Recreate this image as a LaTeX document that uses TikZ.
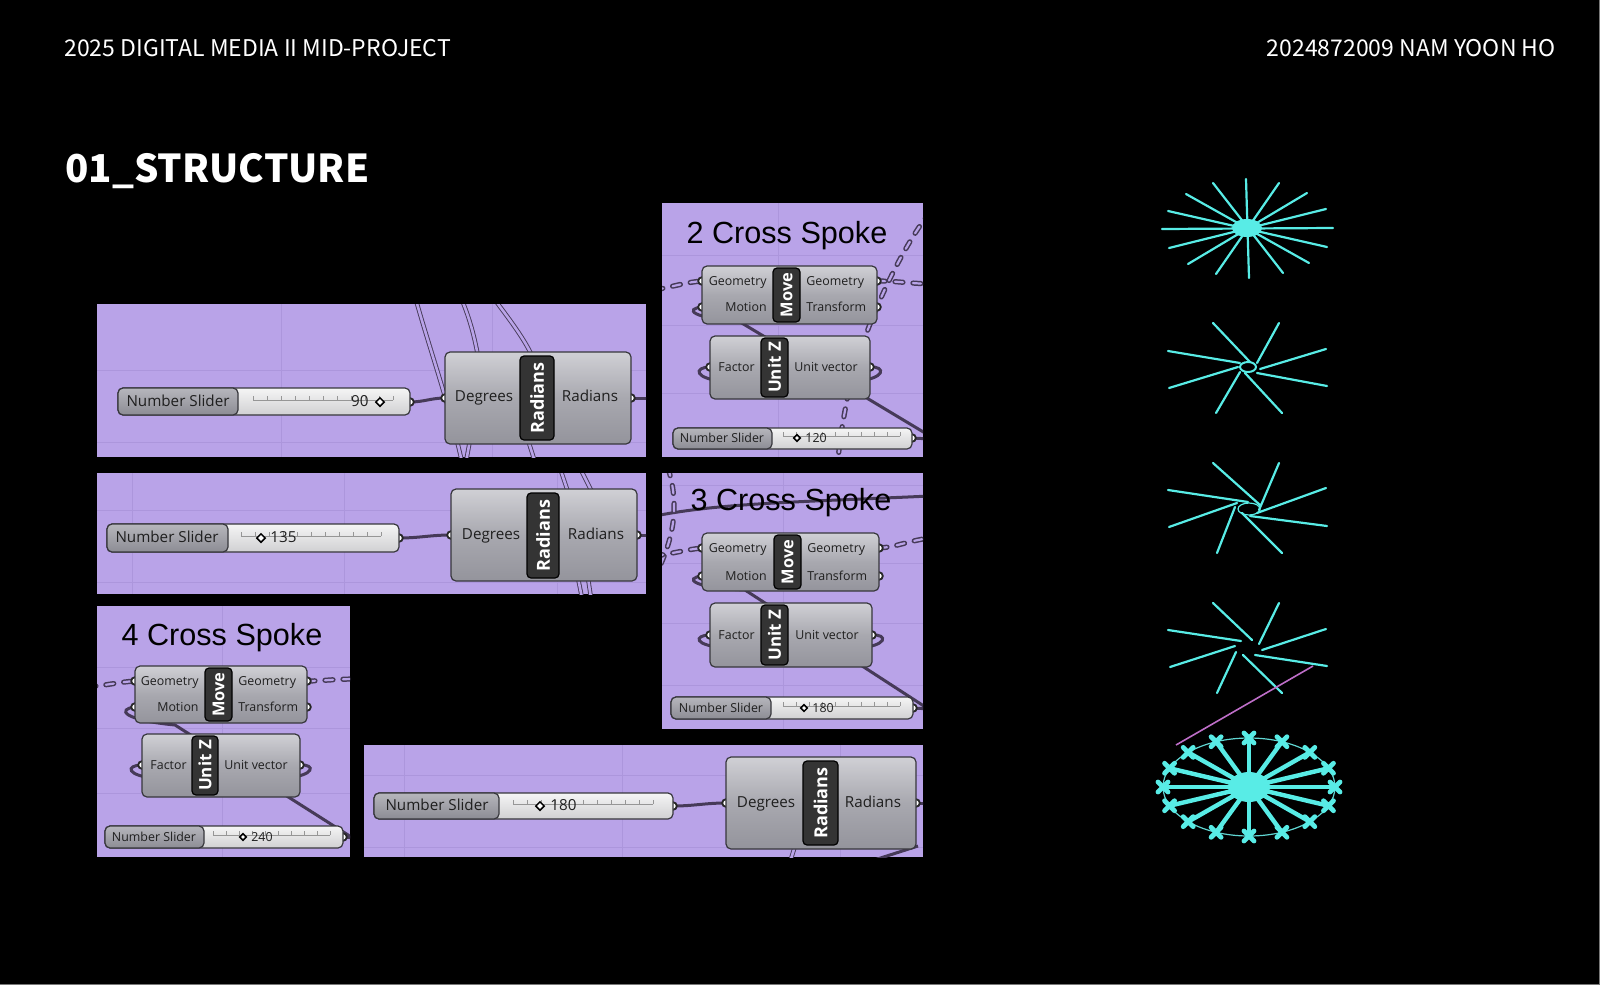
\documentclass[tikz,border=0pt]{standalone}
\usepackage{fontspec}
\usetikzlibrary{shapes.geometric}
\newfontfamily\hdr{Noto Sans CJK KR}
\newfontfamily\gh{Open Sans}
\newfontfamily\ttl{Liberation Sans}
\definecolor{panelc}{RGB}{185,163,232}
\definecolor{gridc}{RGB}{172,150,220}
\definecolor{wirec}{RGB}{70,58,88}
\definecolor{compb}{RGB}{55,55,60}
\definecolor{ctop}{RGB}{208,208,213}
\definecolor{cmid}{RGB}{168,168,175}
\definecolor{cbot}{RGB}{148,148,156}
\definecolor{labc}{RGB}{52,52,52}
\definecolor{sltop}{RGB}{245,245,245}
\definecolor{slbot}{RGB}{208,208,210}
\definecolor{sllt}{RGB}{182,182,188}
\definecolor{sllb}{RGB}{140,140,148}
\definecolor{tickc}{RGB}{150,150,150}
\definecolor{cyanc}{RGB}{88,236,230}
\definecolor{pinkc}{RGB}{190,110,200}
\definecolor{edgec}{RGB}{120,120,120}
\pgfdeclarelayer{bg}\pgfdeclarelayer{wires}\pgfdeclarelayer{ports}
\pgfsetlayers{bg,wires,ports,main}
\newcommand\fbig{\gh\fontsize{7.6}{9}\selectfont}
\newcommand\fsml{\gh\fontsize{6.2}{7.5}\selectfont}
\newcommand\ghbox[6]{\node[#1, minimum width={(#5-#3)*0.5pt}, minimum height={(#6-#4)*0.5pt}] (#2) at (#3,#4) {};}
\newcommand\ghport[2]{\coordinate (#1) at (#2); \begin{pgfonlayer}{ports}\filldraw[portst] (#1) circle[radius=3.8];\end{pgfonlayer}}
\newcommand\ghticks[4]{\draw[tick] (#1,#4) -- (#3,#4); \foreach \tx in {#1,#2,...,#3} \draw[tick] (\tx,#4) -- (\tx,#4-4);}
\begin{document}
\begin{tikzpicture}[x=0.5pt,y=-0.5pt,
 comp/.style={draw=compb, line width=0.6pt, rounded corners=2.5pt, top color=ctop, bottom color=cbot, middle color=cmid, anchor=north west, inner sep=0pt, outer sep=0pt},
 clab/.style={draw=black, line width=0.6pt, fill=labc, rounded corners=2pt, anchor=north west, inner sep=0pt, outer sep=0pt},
 slbody/.style={draw=compb, line width=0.6pt, rounded corners=2.5pt, top color=sltop, bottom color=slbot, anchor=north west, inner sep=0pt, outer sep=0pt},
 sllab/.style={draw=compb, line width=0.6pt, rounded corners=2.5pt, top color=sllt, bottom color=sllb, anchor=north west, inner sep=0pt, outer sep=0pt},
 ctext/.style={text=white, rotate=90, inner sep=0pt, font=\gh\bfseries\fontsize{9}{9}\selectfont},
 ptxt/.style={inner sep=0pt, text=black!88, anchor=mid},
 portst/.style={fill=white, draw=black!85, line width=0.9pt},
 wire/.style={draw=wirec, line width=1.5pt},
 bgw/.style={draw=wirec, double=panelc, line width=0.45pt, double distance=1.3pt},
 hdash/.style={draw=wirec, line width=2.6pt, dash pattern=on 4pt off 5pt, line cap=round, postaction={draw=panelc, line width=1.1pt, dash pattern=on 4pt off 5pt, line cap=round}},
 tick/.style={draw=tickc, line width=0.4pt},
 diam/.style={diamond, draw=black, line width=0.75pt, fill=white, inner sep=0pt, minimum size=4.5pt},
 spoke/.style={draw=cyanc, line width=1.1pt, line cap=round},
 gridl/.style={draw=gridc, line width=0.5pt},
 ttlst/.style={font=\ttl\fontsize{15.3}{16}\selectfont, inner sep=0pt, anchor=base, text=black},
 hdrst/.style={font=\hdr\fontsize{11.5}{14}\selectfont, text=white, inner sep=0pt}
]
\useasboundingbox (0,0) rectangle (1600,985);
% ---------------- background and panels
\begin{pgfonlayer}{bg}
\fill[black] (0,0) rectangle (1600,985);
\draw[edgec, line width=0.6pt] (0,984.3) -- (1599.3,984.3) -- (1599.3,0);
\fill[panelc] (97,304) rectangle (646,457);
\fill[panelc] (662,203) rectangle (923,457);
\fill[panelc] (97,473) rectangle (646,594);
\fill[panelc] (662,473) rectangle (923,729);
\fill[panelc] (97,606) rectangle (350,857);
\fill[panelc] (364,745) rectangle (923,857);
\draw[gridl] (281,304) -- (281,457) (492,304) -- (492,457) (97,370) -- (646,370) (97,442) -- (646,442);
\draw[gridl] (778,203) -- (778,457) (662,255) -- (923,255) (662,325) -- (923,325) (662,393) -- (923,393);
\draw[gridl] (132,473) -- (132,594) (344,473) -- (344,594) (557,473) -- (557,594) (97,510) -- (646,510) (97,582) -- (646,582);
\draw[gridl] (783,473) -- (783,729) (662,485) -- (923,485) (662,563) -- (923,563) (662,623) -- (923,623) (662,685) -- (923,685);
\draw[gridl] (222,606) -- (222,857) (97,667) -- (350,667) (97,728) -- (350,728) (97,793) -- (350,793);
\draw[gridl] (404,745) -- (404,857) (622,745) -- (622,857) (840,745) -- (840,857) (364,775) -- (923,775) (364,847) -- (923,847);
\end{pgfonlayer}
% ---------------- headers
\node[hdrst, anchor=base west] (h1) at (64,56) {2025 DIGITAL MEDIA II MID-PROJECT};
\node[hdrst, anchor=base east] (h2) at (1556,56) {2024872009 NAM YOON HO};
\node[font=\hdr\bfseries\fontsize{19.2}{22}\selectfont, text=white, inner sep=0pt, anchor=base west] (h3) at (65,182) {01\_STRUCTURE};
% ---------------- P1
\ghbox{slbody}{s1}{118}{388}{410}{415}
\ghbox{sllab}{s1l}{118}{388}{238}{415}
\node[ptxt,font=\fbig] (s1t) at (178,402) {Number Slider};
\ghticks{253}{267}{393}{400}
\node[ptxt,font=\fbig,anchor=mid east] (s1v) at (369,402) {90};
\node[diam] (s1d) at (380,402) {};
\ghport{s1o}{410,402}
\ghbox{comp}{r1}{445}{352}{631}{444}
\ghbox{clab}{r1l}{520}{356}{554}{440}
\node[ctext] (r1c) at (r1l.center) {Radians};
\node[ptxt,font=\fbig] (r1a) at (484,397) {Degrees};
\node[ptxt,font=\fbig] (r1b) at (590,397) {Radians};
\ghport{r1i}{445,398}
\ghport{r1o}{631,398}
% ---------------- P3
\ghbox{slbody}{s3}{107}{524}{399}{552}
\ghbox{sllab}{s3l}{107}{524}{228}{552}
\node[ptxt,font=\fbig] (s3t) at (167,538) {Number Slider};
\ghticks{241}{255}{381}{536}
\node[diam] (s3d) at (261,538) {};
\node[ptxt,font=\fbig,anchor=mid west] (s3v) at (270,538) {135};
\ghport{s3o}{399,538}
\ghbox{comp}{r3}{451}{489}{637}{581}
\ghbox{clab}{r3l}{527}{493}{559}{578}
\node[ctext] (r3c) at (r3l.center) {Radians};
\node[ptxt,font=\fbig] (r3a) at (491,535) {Degrees};
\node[ptxt,font=\fbig] (r3b) at (596,535) {Radians};
\ghport{r3i}{451,535}
\ghport{r3o}{637,535}
% ---------------- P6
\ghbox{slbody}{s6}{374}{793}{673}{819}
\ghbox{sllab}{s6l}{374}{793}{499}{819}
\node[ptxt,font=\fbig] (s6t) at (437,806) {Number Slider};
\ghticks{513}{527}{653}{804}
\node[diam] (s6d) at (540,806) {};
\node[ptxt,font=\fbig,anchor=mid west] (s6v) at (550,806) {180};
\ghport{s6o}{673,806}
\ghbox{comp}{r6}{726}{757}{916}{849}
\ghbox{clab}{r6l}{803}{761}{838}{845}
\node[ctext] (r6c) at (r6l.center) {Radians};
\node[ptxt,font=\fbig] (r6a) at (766,803) {Degrees};
\node[ptxt,font=\fbig] (r6b) at (873,803) {Radians};
\ghport{r6i}{726,803}
\ghport{r6o}{916,803}
% ---------------- P2
\node[ttlst] (t2) at (787,243) {2 Cross Spoke};
\ghbox{comp}{m2}{702}{266}{877}{324}
\ghbox{clab}{m2l}{773}{268}{800}{322}
\node[ctext,font=\gh\bfseries\fontsize{8.2}{9}\selectfont] (m2c) at (m2l.center) {Move};
\node[ptxt,font=\fsml,anchor=mid east] (m2a) at (767,281) {Geometry};
\node[ptxt,font=\fsml,anchor=mid east] (m2b) at (767,307) {Motion};
\node[ptxt,font=\fsml,anchor=mid west] (m2d) at (806,281) {Geometry};
\node[ptxt,font=\fsml,anchor=mid west] (m2e) at (806,307) {Transform};
\ghport{m2gi}{702,281}\ghport{m2mi}{702,307}\ghport{m2go}{877,281}\ghport{m2to}{877,307}
\ghbox{comp}{u2}{710}{336}{870}{399}
\ghbox{clab}{u2l}{761}{338}{788}{397}
\node[ctext,font=\gh\bfseries\fontsize{8.5}{9}\selectfont] (u2c) at (u2l.center) {Unit Z};
\node[ptxt,font=\fsml,anchor=mid east] (u2a) at (755,367) {Factor};
\node[ptxt,font=\fsml,anchor=mid west] (u2b) at (794,367) {Unit vector};
\ghport{u2fi}{710,367}\ghport{u2uo}{870,367}
\ghbox{slbody}{s2}{673}{428}{912}{449}
\ghbox{sllab}{s2l}{673}{428}{772}{449}
\node[ptxt,font=\fsml] (s2t) at (722,438) {Number Slider};
\ghticks{783}{796}{900}{436}
\node[diam,minimum size=3.6pt] (s2d) at (797,438) {};
\node[ptxt,font=\fsml,anchor=mid west] (s2v) at (805,438) {120};
\ghport{s2o}{912,438}
% ---------------- P4
\node[ttlst] (t4) at (791,510) {3 Cross Spoke};
\ghbox{comp}{m4}{702}{533}{879}{591}
\ghbox{clab}{m4l}{774}{535}{801}{589}
\node[ctext,font=\gh\bfseries\fontsize{8.2}{9}\selectfont] (m4c) at (m4l.center) {Move};
\node[ptxt,font=\fsml,anchor=mid east] (m4a) at (767,548) {Geometry};
\node[ptxt,font=\fsml,anchor=mid east] (m4b) at (767,576) {Motion};
\node[ptxt,font=\fsml,anchor=mid west] (m4d) at (807,548) {Geometry};
\node[ptxt,font=\fsml,anchor=mid west] (m4e) at (807,576) {Transform};
\ghport{m4gi}{702,548}\ghport{m4mi}{702,576}\ghport{m4go}{879,548}\ghport{m4to}{879,576}
\ghbox{comp}{u4}{710}{603}{872}{667}
\ghbox{clab}{u4l}{761}{605}{788}{665}
\node[ctext,font=\gh\bfseries\fontsize{8.5}{9}\selectfont] (u4c) at (u4l.center) {Unit Z};
\node[ptxt,font=\fsml,anchor=mid east] (u4a) at (755,635) {Factor};
\node[ptxt,font=\fsml,anchor=mid west] (u4b) at (795,635) {Unit vector};
\ghport{u4fi}{710,635}\ghport{u4uo}{872,635}
\ghbox{slbody}{s4}{671}{697}{913}{719}
\ghbox{sllab}{s4l}{671}{697}{771}{719}
\node[ptxt,font=\fsml] (s4t) at (721,708) {Number Slider};
\ghticks{783}{796}{900}{706}
\node[diam,minimum size=3.6pt] (s4d) at (804,708) {};
\node[ptxt,font=\fsml,anchor=mid west] (s4v) at (812,708) {180};
\ghport{s4o}{913,708}
% ---------------- P5
\node[ttlst] (t5) at (222,645) {4 Cross Spoke};
\ghbox{comp}{m5}{135}{666}{307}{723}
\ghbox{clab}{m5l}{205}{668}{232}{721}
\node[ctext,font=\gh\bfseries\fontsize{8.2}{9}\selectfont] (m5c) at (m5l.center) {Move};
\node[ptxt,font=\fsml,anchor=mid east] (m5a) at (199,681) {Geometry};
\node[ptxt,font=\fsml,anchor=mid east] (m5b) at (199,707) {Motion};
\node[ptxt,font=\fsml,anchor=mid west] (m5d) at (238,681) {Geometry};
\node[ptxt,font=\fsml,anchor=mid west] (m5e) at (238,707) {Transform};
\ghport{m5gi}{135,681}\ghport{m5mi}{135,707}\ghport{m5go}{307,681}\ghport{m5to}{307,707}
\ghbox{comp}{u5}{142}{734}{300}{797}
\ghbox{clab}{u5l}{192}{736}{218}{795}
\node[ctext,font=\gh\bfseries\fontsize{8.5}{9}\selectfont] (u5c) at (u5l.center) {Unit Z};
\node[ptxt,font=\fsml,anchor=mid east] (u5a) at (187,765) {Factor};
\node[ptxt,font=\fsml,anchor=mid west] (u5b) at (224,765) {Unit vector};
\ghport{u5fi}{142,765}\ghport{u5uo}{300,765}
\ghbox{slbody}{s5}{105}{826}{343}{848}
\ghbox{sllab}{s5l}{105}{826}{204}{848}
\node[ptxt,font=\fsml] (s5t) at (154,837) {Number Slider};
\ghticks{213}{226}{330}{835}
\node[diam,minimum size=3.6pt] (s5d) at (243,837) {};
\node[ptxt,font=\fsml,anchor=mid west] (s5v) at (251,837) {240};
\ghport{s5o}{343,837}
% ---------------- wires
\begin{pgfonlayer}{wires}
\begin{scope}
\clip (97,304) rectangle (646,457);
\draw[wire] (s1o) to[out=0,in=180] (r1i);
\draw[wire] (r1o) -- (652,398);
\draw[bgw] (416,300) .. controls (430,350) and (448,400) .. (462,462);
\draw[bgw] (462,300) .. controls (470,320) and (474,335) .. (478,356);
\draw[bgw] (495,300) .. controls (510,320) and (525,340) .. (532,356);
\draw[bgw] (528,440) -- (535,462);
\draw[bgw] (470,440) -- (466,462);
\end{scope}
\begin{scope}
\clip (97,473) rectangle (646,594);
\draw[wire] (s3o) to[out=0,in=180] (r3i);
\draw[wire] (r3o) -- (652,535);
\draw[bgw] (560,468) -- (568,492);
\draw[bgw] (580,468) -- (592,492);
\draw[bgw] (588,578) -- (591,598);
\draw[bgw] (578,578) -- (582,598);
\end{scope}
\begin{scope}
\clip (364,745) rectangle (923,857);
\draw[wire] (s6o) to[out=0,in=180] (r6i);
\draw[wire] (r6o) -- (930,803);
\draw[bgw] (795,846) -- (790,862);
\draw[wire] (868,862) -- (918,846);
\end{scope}
\begin{scope}
\clip (662,203) rectangle (923,457);
\draw[hdash] (655,290) .. controls (675,286) and (688,282) .. (m2gi);
\draw[hdash] (m2go) .. controls (895,281) and (905,283) .. (930,284);
\draw[hdash] (930,212) .. controls (900,250) and (862,330) .. (848,395) .. controls (842,425) and (839,445) .. (838,462);
\draw[wire] (m2mi) .. controls (684,309) and (692,318) .. (740,322) -- (930,436);
\draw[wire] (u2fi) .. controls (694,367) and (692,379) .. (728,382);
\draw[wire] (u2uo) .. controls (886,366) and (886,379) .. (856,381);
\draw[wire] (s2o) -- (930,439);
\end{scope}
\begin{scope}
\clip (662,473) rectangle (923,729);
\draw[wire] (655,516) .. controls (720,503) and (800,502) .. (930,496);
\draw[hdash] (668,468) .. controls (678,500) and (676,530) .. (660,566);
\draw[hdash] (655,556) .. controls (675,553) and (690,549) .. (m4gi);
\draw[hdash] (m4go) .. controls (897,547) and (907,541) .. (930,538);
\draw[wire] (m4mi) .. controls (684,578) and (692,588) .. (745,590) -- (930,710);
\draw[wire] (u4fi) .. controls (694,635) and (692,646) .. (728,648);
\draw[wire] (u4uo) .. controls (888,634) and (888,646) .. (858,648);
\draw[wire] (s4o) -- (930,709);
\end{scope}
\begin{scope}
\clip (97,606) rectangle (350,857);
\draw[hdash] (88,687) .. controls (108,685) and (120,682) .. (m5gi);
\draw[hdash] (m5go) .. controls (322,681) and (335,679) .. (356,679);
\draw[wire] (m5mi) .. controls (117,709) and (122,720) .. (175,725) -- (356,840);
\draw[wire] (u5fi) .. controls (126,765) and (124,776) .. (160,779);
\draw[wire] (u5uo) .. controls (316,764) and (315,776) .. (285,778);
\draw[wire] (s5o) -- (356,838);
\end{scope}
\end{pgfonlayer}
% ---------------- 3D previews
% star 1
\fill[cyanc] (1247,228) ellipse[x radius=15, y radius=9];
\draw[spoke] (1246,179) -- (1249,278) (1162,229) -- (1333,228) (1213,183) -- (1283,273) (1279,183) -- (1216,274)
 (1186,194) -- (1309,263) (1307,193) -- (1188,264) (1168,211) -- (1327,247) (1326,209) -- (1169,248);
% star 2
\draw[cyanc, line width=1pt] (1248,367) ellipse[x radius=8, y radius=5];
\draw[spoke] (1213,323) -- (1250,362) (1279,323) -- (1257,363) (1168,351) -- (1240,363) (1326,349) -- (1260,369)
 (1169,388) -- (1238,367) (1327,386) -- (1257,373) (1216,413) -- (1240,372) (1282,413) -- (1245,373);
% star 3
\draw[cyanc, line width=0.6pt] (1249,509) ellipse[x radius=11, y radius=6];
\draw[spoke] (1213,463) -- (1260,505) (1279,463) -- (1259,510) (1168,490) -- (1248,502) (1326,488) -- (1257,513)
 (1169,527) -- (1237,503) (1327,526) -- (1250,516) (1217,553) -- (1235,507) (1282,553) -- (1242,513);
% star 4
\draw[spoke] (1213,603) -- (1252,640) (1279,603) -- (1259,644) (1168,630) -- (1241,641) (1326,629) -- (1262,650)
 (1170,667) -- (1235,646) (1327,666) -- (1255,655) (1217,693) -- (1236,652) (1282,693) -- (1243,655);
\draw[pinkc, line width=0.8pt] (1313,666) -- (1176,745);
% wheel
\coordinate (wc) at (1249,787);
\draw[cyanc!80!gray, line width=0.6pt] (wc) ellipse[x radius=86, y radius=49];
\foreach \a in {0,22.5,...,337.5}{
  \draw[spoke, line width=2.2pt] (wc) -- ++({86*cos(\a)},{49*sin(\a)});
  \path (wc) ++({86*cos(\a)},{49*sin(\a)}) coordinate (xm);
  \draw[cyanc, line width=2.4pt, line cap=round] (xm) ++(-5,-5) -- ++(10,10) (xm) ++(-5,5) -- ++(10,-10);
}
\fill[cyanc] (wc) ellipse[x radius=21, y radius=15];
\end{tikzpicture}
\end{document}
